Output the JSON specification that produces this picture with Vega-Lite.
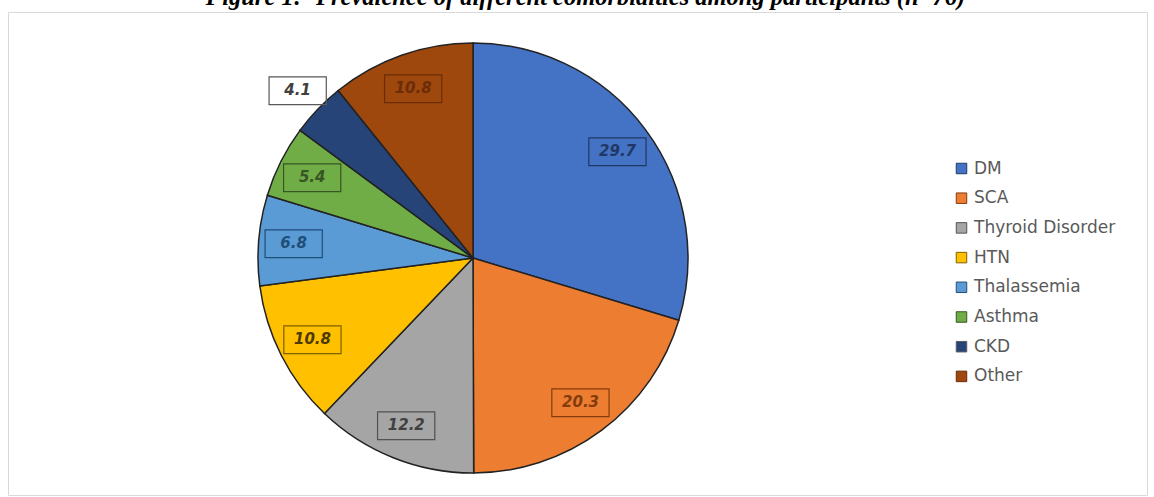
{
  "$schema": "https://vega.github.io/schema/vega-lite/v6.json",
  "autosize": {"type": "none"},
  "width": 1139,
  "height": 483,
  "padding": {"left": 8, "top": 12, "right": 7, "bottom": 2},
  "background": "white",
  "view": {"stroke": "#d9d9d9", "strokeWidth": 1},
  "title": {
    "text": "Figure 1: -Prevalence of different comorbidities among participants (n=76)",
    "font": "Liberation Serif",
    "fontSize": 24.5,
    "fontWeight": "bold",
    "fontStyle": "italic",
    "color": "#000000",
    "anchor": "middle",
    "frame": "group",
    "baseline": "alphabetic",
    "offset": -17.5,
    "dx": 8
  },
  "config": {"view": {"stroke": "#d9d9d9", "strokeWidth": 1}},
  "data": {
    "values": [
      {"idx": 1, "category": "DM", "pct": 29.7},
      {"idx": 2, "category": "SCA", "pct": 20.3},
      {"idx": 3, "category": "Thyroid Disorder", "pct": 12.2},
      {"idx": 4, "category": "HTN", "pct": 10.8},
      {"idx": 5, "category": "Thalassemia", "pct": 6.8},
      {"idx": 6, "category": "Asthma", "pct": 5.4},
      {"idx": 7, "category": "CKD", "pct": 4.1},
      {"idx": 8, "category": "Other", "pct": 10.8}
    ]
  },
  "encoding": {
    "theta": {"field": "pct", "type": "quantitative", "stack": true},
    "order": {"field": "idx", "type": "quantitative", "sort": "ascending"}
  },
  "layer": [
    {
      "mark": {"type": "arc", "radius": 215, "stroke": "#222222", "strokeWidth": 1.5, "xOffset": -104.5, "yOffset": 4.5},
      "encoding": {
        "color": {
          "field": "category",
          "type": "nominal",
          "scale": {
            "domain": ["DM", "SCA", "Thyroid Disorder", "HTN", "Thalassemia", "Asthma", "CKD", "Other"],
            "range": ["#4472C4", "#ED7D31", "#A5A5A5", "#FFC000", "#5B9BD5", "#70AD47", "#264478", "#9E480E"]
          },
          "legend": {
            "title": null,
            "orient": "none",
            "legendX": 945,
            "legendY": 148,
            "padding": 0,
            "symbolType": "square",
            "symbolSize": 110,
            "symbolStrokeColor": "#404040",
            "symbolStrokeWidth": 1,
            "labelFont": "DejaVu Sans",
            "labelFontSize": 17,
            "labelColor": "#595959",
            "labelOffset": 4,
            "rowPadding": 11.7
          }
        }
      }
    },
    {
      "mark": {
        "type": "text",
        "text": "▬",
        "font": "DejaVu Sans",
        "fontSize": 75,
        "fillOpacity": 0,
        "strokeWidth": 1.2,
        "baseline": "middle",
        "align": "center",
        "dy": -3,
        "xOffset": -104.5,
        "yOffset": 4.5,
        "radius": {"expr": "datum.category === 'CKD' ? 243 : 180"}
      },
      "encoding": {
        "stroke": {
          "field": "category",
          "type": "nominal",
          "scale": {
            "domain": ["DM", "SCA", "Thyroid Disorder", "HTN", "Thalassemia", "Asthma", "CKD", "Other"],
            "range": ["#203864", "#843C0C", "#525252", "#7F6000", "#1F4E79", "#375623", "#595959", "#6B2C06"]
          },
          "legend": null
        }
      }
    },
    {
      "mark": {
        "type": "text",
        "font": "DejaVu Sans",
        "fontSize": 15,
        "fontWeight": "bold",
        "fontStyle": "italic",
        "baseline": "middle",
        "align": "center",
        "xOffset": -104.5,
        "yOffset": 4.5,
        "radius": {"expr": "datum.category === 'CKD' ? 243 : 180"}
      },
      "encoding": {
        "text": {"field": "pct", "type": "quantitative", "format": ".1f"},
        "fill": {
          "field": "category",
          "type": "nominal",
          "scale": {
            "domain": ["DM", "SCA", "Thyroid Disorder", "HTN", "Thalassemia", "Asthma", "CKD", "Other"],
            "range": ["#203864", "#843C0C", "#404040", "#4d3a00", "#1F4E79", "#375623", "#404040", "#6B2C06"]
          },
          "legend": null
        }
      }
    }
  ]
}
